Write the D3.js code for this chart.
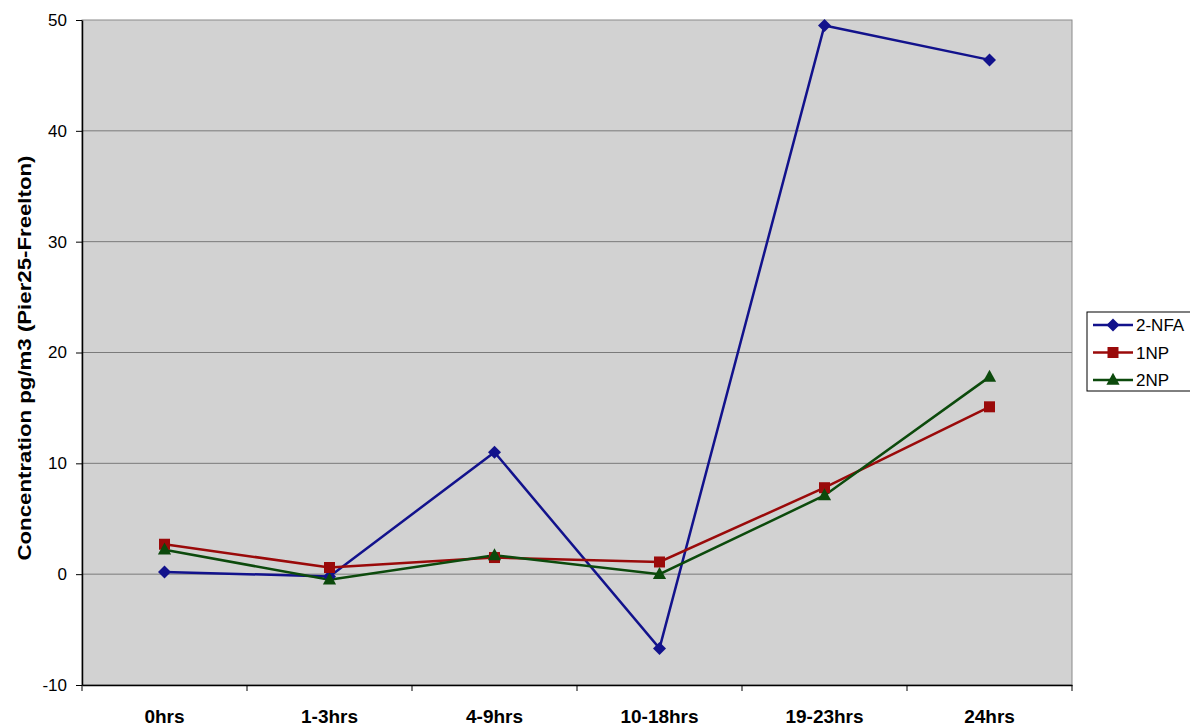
<!DOCTYPE html>
<html><head><meta charset="utf-8">
<script src="https://cdn.jsdelivr.net/npm/d3@7"></script>
<style>body{margin:0;background:#fff}svg{display:block;font-family:Arial,"Liberation Sans",sans-serif}</style>
</head><body>
<svg id="c" width="1190" height="726"></svg>
<script>
const categories = ["0hrs","1-3hrs","4-9hrs","10-18hrs","19-23hrs","24hrs"];
const nfa = [0.2, -0.2, 11.0, -6.7, 49.5, 46.4];
const np1 = [2.7, 0.6, 1.5, 1.1, 7.8, 15.1];
const np2 = [2.2, -0.5, 1.7, 0.0, 7.1, 17.8];
const yTicks = [-10, 0, 10, 20, 30, 40, 50];
const seriesNames = ["2-NFA","1NP","2NP"];
const seriesColors = ["#12128c","#9a0a0a","#0c4a0c"];
const series = [nfa, np1, np2];

// marker shapes
const diamond = s => `M0,${-s}L${s},0L0,${s}L${-s},0Z`;
const square = s => `M${-s},${-s}H${s}V${s}H${-s}Z`;
const triangle = s => `M0,${-s*1.2}L${s*1.1},${s*0.8}L${-s*1.1},${s*0.8}Z`;
const shapes = [diamond(6.5), square(5.5), triangle(6)];

const svg = d3.select("#c");
const L = 82, R = 1072, T = 20, B = 685;
const x = d3.scaleBand().domain(categories).range([L, R]);
const y = d3.scaleLinear().domain([-10, 50]).range([B, T]);

svg.append("rect").attr("x", L).attr("y", T).attr("width", R - L).attr("height", B - T)
  .attr("fill", "#d2d2d2").attr("stroke", "#8a8a8a").attr("stroke-width", 1);

svg.append("g").selectAll("line").data(yTicks.filter(d => d > -10 && d < 50)).join("line")
  .attr("x1", L).attr("x2", R).attr("y1", d => y(d)).attr("y2", d => y(d))
  .attr("stroke", "#7a7a7a").attr("stroke-width", 1);

const ya = svg.append("g").attr("transform", `translate(${L},0)`)
  .call(d3.axisLeft(y).tickValues(yTicks).tickFormat(d => String(d))
    .tickSize(6).tickSizeOuter(0).tickPadding(9));
ya.select(".domain").attr("stroke", "#000").attr("stroke-width", 1.5);
ya.selectAll(".tick line").attr("stroke", "#000");
ya.selectAll("text").attr("font-size", 17).attr("fill", "#000");

const xa = svg.append("g").attr("transform", `translate(0,${B})`)
  .call(d3.axisBottom(x).tickSize(0).tickPadding(0));
xa.select(".domain").attr("stroke", "#000").attr("stroke-width", 1.5);
xa.selectAll("text").attr("dy", null).attr("y", 38).attr("font-size", 19)
  .attr("font-weight", "bold").attr("fill", "#000");
xa.selectAll(".sep").data(d3.range(categories.length + 1)).join("line")
  .attr("x1", i => L + i * x.step()).attr("x2", i => L + i * x.step())
  .attr("y1", 0).attr("y2", 6).attr("stroke", "#000");

svg.append("text").attr("transform", `translate(31,${358}) rotate(-90)`)
  .attr("text-anchor", "middle").attr("font-size", 19).attr("font-weight", "bold")
  .attr("textLength", 405).attr("lengthAdjust", "spacingAndGlyphs")
  .text("Concentration pg/m3 (Pier25-Freelton)");

const cx = c => x(c) + x.bandwidth() / 2;
const line = d3.line().x((d, i) => cx(categories[i])).y(d => y(d));
series.forEach((s, k) => {
  svg.append("path").datum(s).attr("d", line).attr("fill", "none")
    .attr("stroke", seriesColors[k]).attr("stroke-width", 2.5);
});
series.forEach((s, k) => {
  svg.append("g").selectAll("path").data(s).join("path")
    .attr("transform", (d, i) => `translate(${cx(categories[i])},${y(d)})`)
    .attr("d", shapes[k])
    .attr("fill", seriesColors[k]);
});

// legend
const lg = svg.append("g");
lg.append("rect").attr("x", 1087).attr("y", 312).attr("width", 110).attr("height", 79)
  .attr("fill", "#fff").attr("stroke", "#000").attr("stroke-width", 1);
seriesNames.forEach((n, k) => {
  const yy = 325 + k * 27.5;
  lg.append("line").attr("x1", 1093).attr("x2", 1133).attr("y1", yy).attr("y2", yy)
    .attr("stroke", seriesColors[k]).attr("stroke-width", 2.5);
  lg.append("path").attr("transform", `translate(1113,${yy})`)
    .attr("d", shapes[k]).attr("fill", seriesColors[k]);
  lg.append("text").attr("x", 1136).attr("y", yy + 6).attr("font-size", 17).text(n);
});
</script>
</body></html>
